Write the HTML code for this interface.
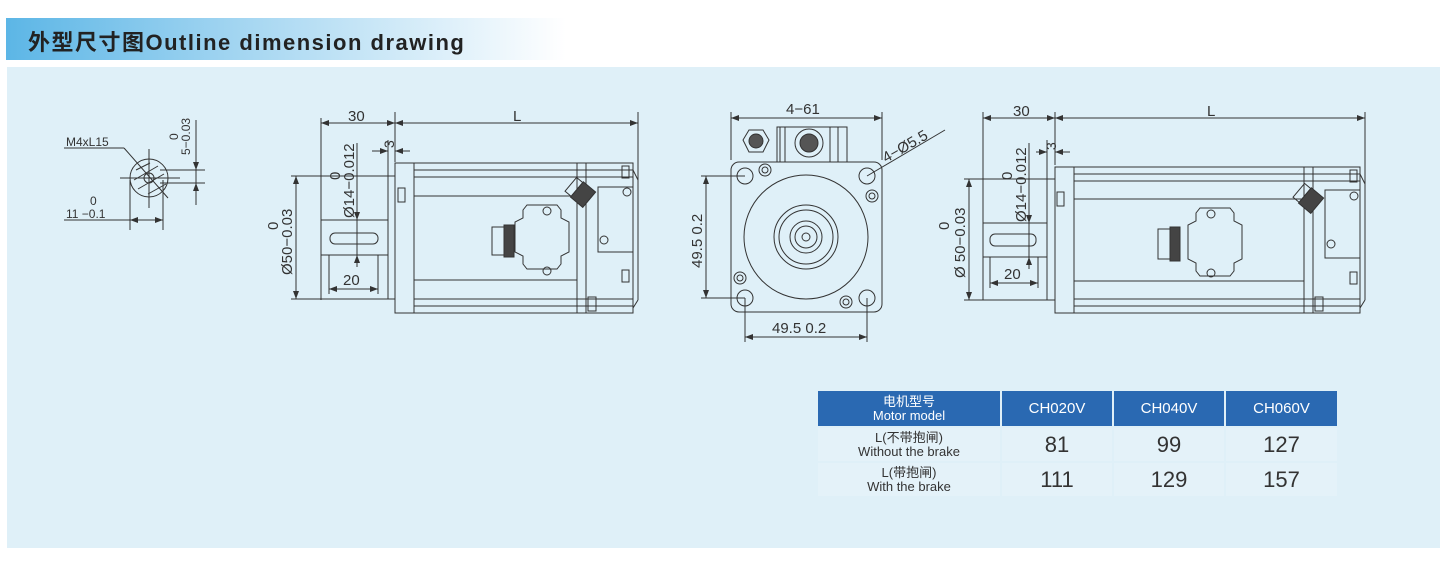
<!DOCTYPE html>
<html><head><meta charset="utf-8"><style>
html,body{margin:0;padding:0;background:#fff;}
body{width:1450px;height:562px;position:relative;overflow:hidden;font-family:"Liberation Sans","Noto Sans CJK SC",sans-serif;}
.hdr{position:absolute;left:6px;top:18px;width:560px;height:42px;background:linear-gradient(90deg,#5cb6e6 0%,#a9d8f2 45%,#ffffff 100%);}
.hdr span{position:absolute;left:22px;top:7px;font-size:22px;font-weight:bold;color:#222;letter-spacing:1.5px;}
.panel{position:absolute;left:7px;top:67px;width:1433px;height:481px;background:#dff0f8;}
svg{position:absolute;left:0;top:0;}
table{position:absolute;left:816px;top:389px;border-collapse:separate;border-spacing:2px;}
td{background:#e4f2f9;text-align:center;color:#333;padding:0;}
tr.h td{background:#2a69b2;color:#fff;}
</style></head><body>
<div class="hdr"><span>外型尺寸图Outline dimension drawing</span></div>
<div class="panel"></div>
<svg width="1450" height="562" viewBox="0 0 1450 562" fill="none" stroke="#333" stroke-width="1" font-family="Liberation Sans, sans-serif">
<defs><marker id="a" markerWidth="8" markerHeight="6" refX="8" refY="3" orient="auto-start-reverse"><path d="M0,0L8,3L0,6z" fill="#333" stroke="none"/></marker></defs>

<!-- small detail -->
<g>
<circle cx="149" cy="178" r="19"/><circle cx="149" cy="178" r="5"/>
<line x1="120" y1="178" x2="180" y2="178"/><line x1="149" y1="149" x2="149" y2="208"/>
<line x1="64" y1="148" x2="124" y2="148"/><line x1="124" y1="148" x2="168" y2="198"/>
<path d="M136,170L150,163M134,180L158,166M138,189L164,174M148,194L166,184" />
<line x1="160" y1="170" x2="205" y2="170"/><line x1="160" y1="183" x2="205" y2="183"/>
<line x1="196" y1="120" x2="196" y2="205"/>
<line x1="196" y1="158" x2="196" y2="170" marker-end="url(#a)"/><line x1="196" y1="196" x2="196" y2="183" marker-end="url(#a)"/>
<line x1="130" y1="180" x2="130" y2="230"/><line x1="163" y1="180" x2="163" y2="230"/>
<line x1="64" y1="220" x2="163" y2="220"/>
<line x1="130" y1="220" x2="140" y2="220" marker-start="url(#a)"/><line x1="153" y1="220" x2="163" y2="220" marker-end="url(#a)"/>
<text x="66" y="146" font-size="12" fill="#333" stroke="none">M4xL15</text>
<text x="90" y="205" font-size="12" fill="#333" stroke="none">0</text>
<text x="66" y="218" font-size="12" fill="#333" stroke="none">11 −0.1</text>
<text transform="translate(178,140) rotate(-90)" font-size="12" fill="#333" stroke="none">0</text>
<text transform="translate(190,155) rotate(-90)" font-size="12" fill="#333" stroke="none">5−0.03</text>
</g>

<!-- side view 1 -->
<g>
<line x1="321" y1="118" x2="321" y2="300"/><line x1="395" y1="112" x2="395" y2="162"/><line x1="638" y1="112" x2="638" y2="300"/>
<line x1="321" y1="123" x2="395" y2="123" marker-start="url(#a)" marker-end="url(#a)"/>
<line x1="395" y1="123" x2="638" y2="123" marker-start="url(#a)" marker-end="url(#a)"/>
<text x="348" y="121" font-size="15" fill="#333" stroke="none">30</text>
<text x="513" y="121" font-size="15" fill="#333" stroke="none">L</text>
<line x1="372" y1="151" x2="388" y2="151" marker-end="url(#a)"/><line x1="410" y1="151" x2="395" y2="151" marker-end="url(#a)"/>
<line x1="388" y1="140" x2="388" y2="176"/>
<text transform="translate(394,148) rotate(-90)" font-size="14" fill="#333" stroke="none">3</text>
<!-- body -->
<rect x="395" y="163" width="238" height="150"/>
<line x1="414" y1="163" x2="414" y2="313"/>
<line x1="577" y1="163" x2="577" y2="313"/><line x1="586" y1="163" x2="586" y2="313"/>
<line x1="414" y1="170" x2="633" y2="170"/><line x1="414" y1="177" x2="633" y2="177"/><line x1="414" y1="196" x2="577" y2="196"/>
<line x1="414" y1="280" x2="577" y2="280"/><line x1="414" y1="299" x2="633" y2="299"/><line x1="414" y1="306" x2="633" y2="306"/>
<line x1="633" y1="170" x2="638" y2="180"/><line x1="638" y1="180" x2="638" y2="300"/><line x1="638" y1="300" x2="633" y2="308"/>
<rect x="398" y="188" width="7" height="14"/><rect x="622" y="166" width="7" height="12"/><rect x="622" y="270" width="7" height="12"/><rect x="588" y="297" width="8" height="14"/>
<!-- pilot & shaft -->
<rect x="388" y="176" width="7" height="123"/>
<rect x="321" y="220" width="67" height="35"/>
<rect x="330" y="233" width="48" height="11" rx="5"/>
<line x1="357" y1="143" x2="357" y2="255"/>
<line x1="357" y1="208" x2="357" y2="220" marker-end="url(#a)"/><line x1="357" y1="267" x2="357" y2="255" marker-end="url(#a)"/>
<line x1="329" y1="255" x2="329" y2="294"/><line x1="378" y1="255" x2="378" y2="294"/>
<line x1="329" y1="289" x2="378" y2="289" marker-start="url(#a)" marker-end="url(#a)"/>
<text x="343" y="285" font-size="15" fill="#333" stroke="none">20</text>
<line x1="291" y1="176" x2="388" y2="176"/><line x1="291" y1="299" x2="388" y2="299"/>
<line x1="296" y1="176" x2="296" y2="299" marker-start="url(#a)" marker-end="url(#a)"/>
<text transform="translate(292,275) rotate(-90)" font-size="15" fill="#333" stroke="none">Ø50−0.03</text>
<text transform="translate(278,230) rotate(-90)" font-size="15" fill="#333" stroke="none">0</text>
<text transform="translate(354,218) rotate(-90)" font-size="15" fill="#333" stroke="none">Ø14−0.012</text>
<text transform="translate(340,180) rotate(-90)" font-size="15" fill="#333" stroke="none">0</text>
<!-- connector box -->
<path d="M527,205h30l4,5v8l8,4v30l-8,4v8l-4,5h-30l-4,-5v-8l-8,-4v-30l8,-4v-8z"/>
<circle cx="547" cy="211" r="4"/><circle cx="547" cy="271" r="4"/>
<rect x="492" y="227" width="12" height="28"/><rect x="504" y="225" width="10" height="32" fill="#444"/>
<g transform="translate(580,192) rotate(40)"><rect x="-12" y="-9" width="8" height="18"/><rect x="-4" y="-10" width="16" height="20" fill="#444"/></g>
<path d="M598,187h35v65h-35z"/><circle cx="627" cy="192" r="4"/><circle cx="604" cy="240" r="4"/>
</g>

<!-- front view -->
<g>
<line x1="731" y1="112" x2="731" y2="160"/><line x1="882" y1="112" x2="882" y2="160"/>
<line x1="731" y1="118" x2="882" y2="118" marker-start="url(#a)" marker-end="url(#a)"/>
<text x="786" y="114" font-size="15" fill="#333" stroke="none">4−61</text>
<rect x="731" y="162" width="151" height="150" rx="8"/>
<rect x="777" y="127" width="70" height="35"/>
<line x1="780" y1="127" x2="780" y2="162"/><line x1="785" y1="127" x2="785" y2="162"/><line x1="830" y1="127" x2="830" y2="162"/><line x1="838" y1="127" x2="838" y2="162"/>
<path d="M749,130h14l6,10l-6,12h-14l-6,-12z"/><circle cx="756" cy="141" r="7" fill="#555"/>
<circle cx="809" cy="143" r="14"/><circle cx="809" cy="143" r="9" fill="#555"/>
<circle cx="806" cy="237" r="62"/>
<circle cx="806" cy="237" r="32"/><circle cx="806" cy="237" r="27"/><circle cx="806" cy="237" r="16"/><circle cx="806" cy="237" r="11"/><circle cx="806" cy="237" r="4"/>
<circle cx="745" cy="176" r="8"/><circle cx="867" cy="176" r="8"/><circle cx="745" cy="298" r="8"/><circle cx="867" cy="298" r="8"/>
<circle cx="765" cy="170" r="6"/><circle cx="765" cy="170" r="3"/>
<circle cx="872" cy="196" r="6"/><circle cx="872" cy="196" r="3"/>
<circle cx="740" cy="278" r="6"/><circle cx="740" cy="278" r="3"/>
<circle cx="846" cy="302" r="6"/><circle cx="846" cy="302" r="3"/>
<line x1="701" y1="176" x2="745" y2="176"/><line x1="701" y1="298" x2="745" y2="298"/>
<line x1="706" y1="176" x2="706" y2="298" marker-start="url(#a)" marker-end="url(#a)"/>
<text transform="translate(702,268) rotate(-90)" font-size="15" fill="#333" stroke="none">49.5 0.2</text>
<line x1="745" y1="298" x2="745" y2="342"/><line x1="867" y1="298" x2="867" y2="342"/>
<line x1="745" y1="337" x2="867" y2="337" marker-start="url(#a)" marker-end="url(#a)"/>
<text x="772" y="333" font-size="15" fill="#333" stroke="none">49.5 0.2</text>
<line x1="867" y1="176" x2="945" y2="130"/>
<text transform="translate(886,163) rotate(-30)" font-size="15" fill="#333" stroke="none">4−Ø5.5</text>
</g>

<!-- side view 2 -->
<g>
<line x1="983" y1="112" x2="983" y2="300"/><line x1="1055" y1="112" x2="1055" y2="165"/><line x1="1365" y1="112" x2="1365" y2="300"/>
<line x1="983" y1="118" x2="1055" y2="118" marker-start="url(#a)" marker-end="url(#a)"/>
<line x1="1055" y1="118" x2="1365" y2="118" marker-start="url(#a)" marker-end="url(#a)"/>
<text x="1013" y="116" font-size="15" fill="#333" stroke="none">30</text>
<text x="1207" y="116" font-size="15" fill="#333" stroke="none">L</text>
<line x1="1036" y1="152" x2="1047" y2="152" marker-end="url(#a)"/><line x1="1070" y1="152" x2="1055" y2="152" marker-end="url(#a)"/>
<line x1="1047" y1="140" x2="1047" y2="179"/>
<text transform="translate(1056,150) rotate(-90)" font-size="14" fill="#333" stroke="none">3</text>
<rect x="1055" y="167" width="305" height="146"/>
<line x1="1074" y1="167" x2="1074" y2="313"/>
<line x1="1304" y1="167" x2="1304" y2="313"/><line x1="1313" y1="167" x2="1313" y2="313"/>
<line x1="1074" y1="174" x2="1360" y2="174"/><line x1="1074" y1="181" x2="1360" y2="181"/><line x1="1074" y1="199" x2="1304" y2="199"/>
<line x1="1074" y1="281" x2="1304" y2="281"/><line x1="1074" y1="299" x2="1360" y2="299"/><line x1="1074" y1="306" x2="1360" y2="306"/>
<line x1="1360" y1="174" x2="1365" y2="184"/><line x1="1365" y1="184" x2="1365" y2="300"/><line x1="1365" y1="300" x2="1360" y2="308"/>
<rect x="1057" y="192" width="7" height="14"/><rect x="1350" y="170" width="7" height="12"/><rect x="1350" y="272" width="7" height="12"/><rect x="1315" y="297" width="8" height="14"/>
<rect x="1047" y="179" width="8" height="121"/>
<rect x="983" y="223" width="64" height="34"/>
<rect x="990" y="234" width="46" height="12" rx="5"/>
<line x1="1029" y1="143" x2="1029" y2="257"/>
<line x1="1029" y1="211" x2="1029" y2="223" marker-end="url(#a)"/><line x1="1029" y1="269" x2="1029" y2="257" marker-end="url(#a)"/>
<line x1="990" y1="257" x2="990" y2="288"/><line x1="1038" y1="257" x2="1038" y2="288"/>
<line x1="990" y1="283" x2="1038" y2="283" marker-start="url(#a)" marker-end="url(#a)"/>
<text x="1004" y="279" font-size="15" fill="#333" stroke="none">20</text>
<line x1="964" y1="179" x2="1047" y2="179"/><line x1="964" y1="300" x2="1047" y2="300"/>
<line x1="969" y1="179" x2="969" y2="300" marker-start="url(#a)" marker-end="url(#a)"/>
<text transform="translate(965,278) rotate(-90)" font-size="15" fill="#333" stroke="none">Ø 50−0.03</text>
<text transform="translate(949,230) rotate(-90)" font-size="15" fill="#333" stroke="none">0</text>
<text transform="translate(1026,222) rotate(-90)" font-size="15" fill="#333" stroke="none">Ø14−0.012</text>
<text transform="translate(1012,180) rotate(-90)" font-size="15" fill="#333" stroke="none">0</text>
<path d="M1200,208h30l4,5v8l8,4v34l-8,4v8l-4,5h-30l-4,-5v-8l-8,-4v-34l8,-4v-8z"/>
<circle cx="1211" cy="214" r="4"/><circle cx="1211" cy="273" r="4"/>
<rect x="1158" y="229" width="12" height="30"/><rect x="1170" y="227" width="10" height="34" fill="#444"/>
<g transform="translate(1308,198) rotate(40)"><rect x="-12" y="-9" width="8" height="18"/><rect x="-4" y="-10" width="16" height="20" fill="#444"/></g>
<path d="M1325,190h35v68h-35z"/><circle cx="1354" cy="196" r="4"/><circle cx="1331" cy="244" r="4"/>
</g>
</svg>

<table>
<tr class="h"><td style="width:182px;height:35px;font-size:13px;line-height:14px">电机型号<br>Motor model</td><td style="width:110px;font-size:15px">CH020V</td><td style="width:110px;font-size:15px">CH040V</td><td style="width:111px;font-size:15px">CH060V</td></tr>
<tr><td style="height:33px;font-size:13px;line-height:14px">L(不带抱闸)<br>Without the brake</td><td style="font-size:22px">81</td><td style="font-size:22px">99</td><td style="font-size:22px">127</td></tr>
<tr><td style="height:33px;font-size:13px;line-height:14px">L(带抱闸)<br>With the brake</td><td style="font-size:22px">111</td><td style="font-size:22px">129</td><td style="font-size:22px">157</td></tr>
</table>
</body></html>
